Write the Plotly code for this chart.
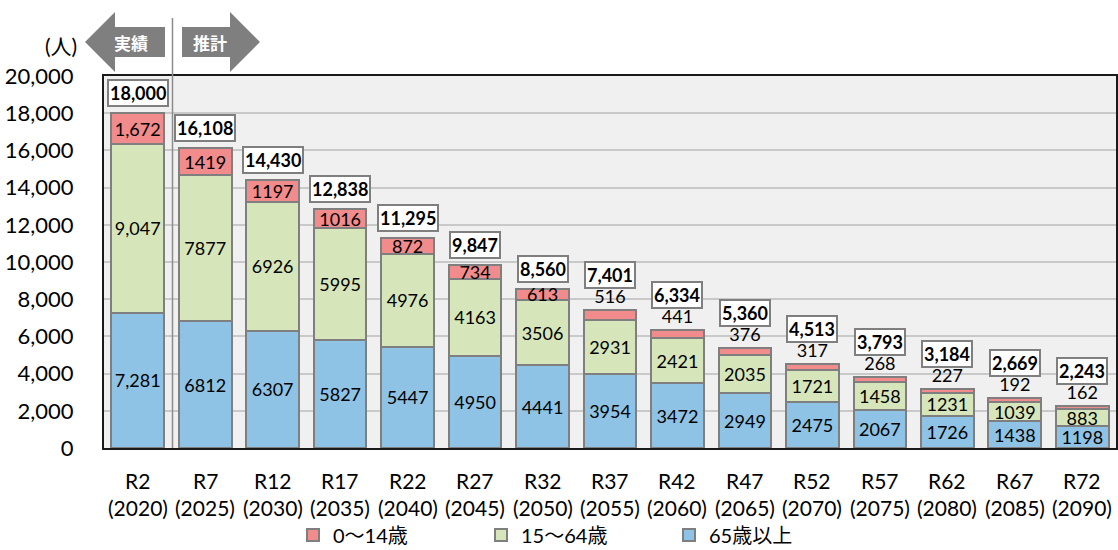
import plotly.graph_objects as go

categories = ["R2", "R7", "R12", "R17", "R22", "R27", "R32", "R37", "R42", "R47", "R52", "R57", "R62", "R67", "R72"]
years = ["(2020)", "(2025)", "(2030)", "(2035)", "(2040)", "(2045)", "(2050)", "(2055)", "(2060)", "(2065)", "(2070)", "(2075)", "(2080)", "(2085)", "(2090)"]
young = [1672, 1419, 1197, 1016, 872, 734, 613, 516, 441, 376, 317, 268, 227, 192, 162]
working = [9047, 7877, 6926, 5995, 4976, 4163, 3506, 2931, 2421, 2035, 1721, 1458, 1231, 1039, 883]
elderly = [7281, 6812, 6307, 5827, 5447, 4950, 4441, 3954, 3472, 2949, 2475, 2067, 1726, 1438, 1198]
totals = [18000, 16108, 14430, 12838, 11295, 9847, 8560, 7401, 6334, 5360, 4513, 3793, 3184, 2669, 2243]
series_names = ["0～14歳", "15～64歳", "65歳以上"]

FONT = "Lato, 'Noto Sans CJK JP', sans-serif"
RED = "#F28B8B"
GREEN = "#D7E6BA"
BLUE = "#8FC3E5"
EDGE = "#7F7F7F"

# plot area geometry (pixels)
W, H = 1118, 550
L, R, T, B = 104, 2, 76, 102
PW, PH = W - L - R, H - T - B


def px(x):
    return (x - L) / PW


def py(y):
    return (H - B - y) / PH


def fmt(v, i):
    return f"{v:,}" if i == 0 else str(v)


fig = go.Figure()
n_inside = 7
fig.add_trace(go.Bar(
    x=categories, y=elderly, name=series_names[2],
    marker=dict(color=BLUE, line=dict(color=EDGE, width=2)),
    text=[fmt(v, i) for i, v in enumerate(elderly)], textposition="inside",
    insidetextanchor="middle", textangle=0, constraintext="none",
    textfont=dict(size=18, color="black", family=FONT), hoverinfo="skip",
))
fig.add_trace(go.Bar(
    x=categories, y=working, name=series_names[1],
    marker=dict(color=GREEN, line=dict(color=EDGE, width=2)),
    text=[fmt(v, i) for i, v in enumerate(working)], textposition="inside",
    insidetextanchor="middle", textangle=0, constraintext="none",
    textfont=dict(size=18, color="black", family=FONT), hoverinfo="skip",
))
fig.add_trace(go.Bar(
    x=categories, y=young, name=series_names[0],
    marker=dict(color=RED, line=dict(color=EDGE, width=2)),
    text=[fmt(v, i) for i, v in enumerate(young)],
    textposition=["inside"] * n_inside + ["outside"] * (len(young) - n_inside),
    insidetextanchor="middle", textangle=0, constraintext="none", cliponaxis=False,
    textfont=dict(size=18, color="black", family=FONT), hoverinfo="skip",
))

annotations = []
for i, (c, t) in enumerate(zip(categories, totals)):
    annotations.append(dict(
        x=c, y=t, xref="x", yref="y", text=f"<b>{t:,}</b>", showarrow=False,
        yshift=20 if i < n_inside else 35, xanchor="center", yanchor="middle",
        font=dict(size=18, color="black", family=FONT),
        bgcolor="white", bordercolor=EDGE, borderwidth=2, borderpad=1,
    ))
    annotations.append(dict(
        x=c, y=py(480), xref="x", yref="paper", text=c, showarrow=False,
        font=dict(size=21, color="black", family=FONT), xanchor="center", yanchor="middle",
    ))
    annotations.append(dict(
        x=c, y=py(507), xref="x", yref="paper", text=years[i], showarrow=False,
        font=dict(size=21, color="black", family=FONT), xanchor="center", yanchor="middle",
    ))

annotations.append(dict(
    x=px(79), y=py(45), xref="paper", yref="paper", text="(人)", showarrow=False,
    xanchor="right", yanchor="middle", font=dict(size=21, color="black", family=FONT),
))
annotations.append(dict(
    x=px(131), y=py(43), xref="paper", yref="paper", text="<b>実績</b>", showarrow=False,
    xanchor="center", yanchor="middle",
    font=dict(size=17, color="white", family=FONT),
))
annotations.append(dict(
    x=px(210), y=py(43), xref="paper", yref="paper", text="<b>推計</b>", showarrow=False,
    xanchor="center", yanchor="middle",
    font=dict(size=17, color="white", family=FONT),
))


def path(points):
    return "M " + " L ".join(f"{px(a):.5f},{py(b):.5f}" for a, b in points) + " Z"


left_arrow = [(85, 42), (115, 12), (115, 27), (165, 27), (165, 57), (115, 57), (115, 72)]
right_arrow = [(182, 27), (230, 27), (230, 12), (260, 42), (230, 72), (230, 57), (182, 57)]
shapes = [
    dict(type="path", path=path(left_arrow), xref="paper", yref="paper",
         fillcolor="#7F7F7F", line=dict(width=0)),
    dict(type="path", path=path(right_arrow), xref="paper", yref="paper",
         fillcolor="#7F7F7F", line=dict(width=0)),
    dict(type="line", xref="paper", yref="paper", x0=px(172.5), x1=px(172.5),
         y0=0, y1=py(18), line=dict(color="#8C8C8C", width=1.5)),
]

fig.update_layout(
    width=W, height=H, barmode="stack", bargap=0.22,
    margin=dict(l=L, r=R, t=T, b=B, autoexpand=False),
    paper_bgcolor="white", plot_bgcolor="#F0F0F0",
    font=dict(family=FONT, color="black"),
    annotations=annotations, shapes=shapes,
    legend=dict(orientation="h", x=px(293), xanchor="left", y=py(535), yanchor="middle",
                traceorder="reversed", font=dict(size=20, family=FONT),
                entrywidth=143, itemclick=False, tracegroupgap=0),
    xaxis=dict(showticklabels=False, showline=True, linecolor="#1A1A1A", linewidth=2,
               mirror=True, ticks=""),
    yaxis=dict(range=[0, 20000], dtick=2000, tickformat=",", showgrid=True,
               gridcolor="#C9C9C9", gridwidth=1.5, showline=True, linecolor="#1A1A1A",
               linewidth=2, mirror=True, ticks="", ticklabelstandoff=24,
               tickfont=dict(size=22, family=FONT, color="black"), zeroline=False),
)

fig.write_html("out.html", config={"displayModeBar": False},
               post_script="document.body.style.margin='0';")
